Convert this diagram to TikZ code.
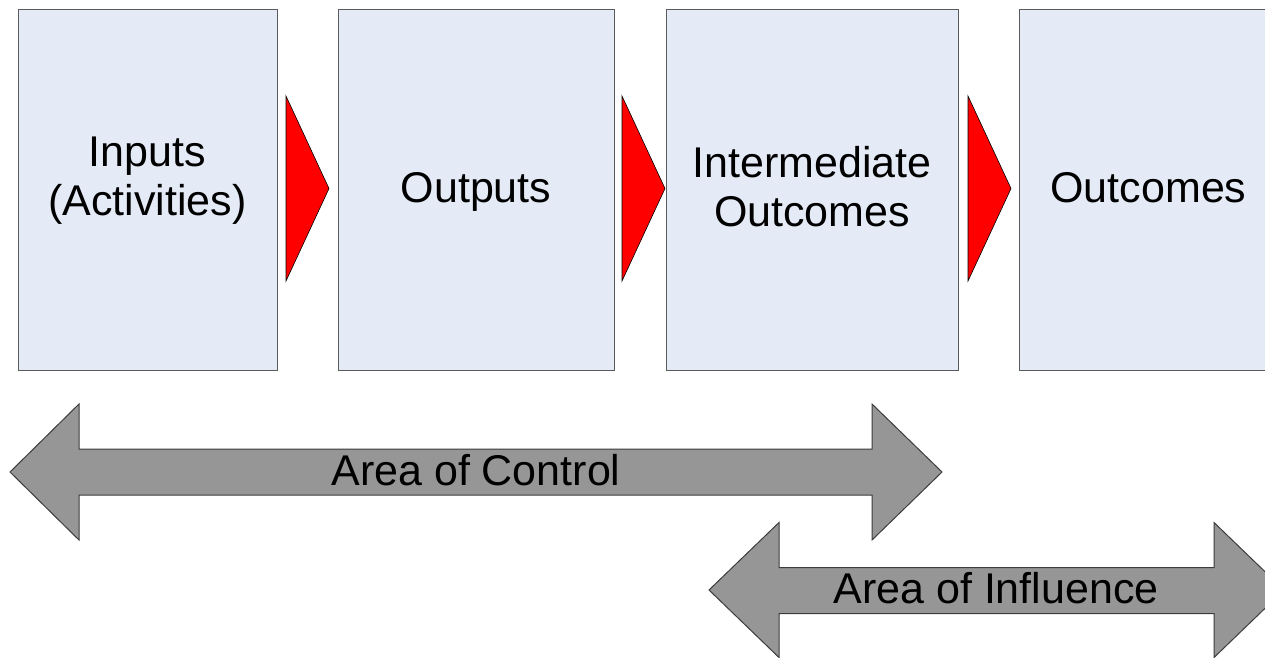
\documentclass[tikz,border=0pt]{standalone}
\usepackage{fontspec}
\setmainfont{Liberation Sans}
\definecolor{boxfill}{RGB}{229,235,246}
\definecolor{boxline}{RGB}{90,90,90}
\definecolor{arrowfill}{RGB}{150,150,150}
\definecolor{arrowline}{RGB}{60,60,60}
\definecolor{chevred}{RGB}{255,0,0}
\tikzset{
  stagebox/.style={draw=boxline, fill=boxfill, line width=1pt, anchor=north west,
    minimum width=259pt, minimum height=361pt, inner sep=0pt, outer sep=0pt},
  chev/.style={draw=black, fill=chevred, line width=0.6pt, line join=miter},
  bigarrow/.style={draw=arrowline, fill=arrowfill, line width=1pt, line join=miter},
  lbl/.style={font=\fontsize{43}{49}\selectfont, align=center, inner sep=0pt, anchor=base}
}
\begin{document}
\begin{tikzpicture}[x=1pt,y=-1pt]
\useasboundingbox (0,0) rectangle (1265,657);
% boxes
\node[stagebox] (b1) at (18,9) {};
\node[stagebox, minimum width=276pt] (b2) at (338,9) {};
\node[stagebox, minimum width=292pt] (b3) at (666,9) {};
\node[stagebox] (b4) at (1019,9) {};
% chevrons
\draw[chev] (286,96) -- (329,188.5) -- (286,281) -- cycle;
\draw[chev] (622,96) -- (665,188.5) -- (622,281) -- cycle;
\draw[chev] (968,96) -- (1011,188.5) -- (968,281) -- cycle;
% box labels (base = baseline of last line)
\node[lbl] (t1) at (b1.center |- 0,215) {Inputs\\(Activities)};
\node[lbl] (t2) at (b2.center |- 0,202) {Outputs};
\node[lbl] (t3) at (b3.center |- 0,226) {Intermediate\\Outcomes};
\node[lbl] (t4) at (b4.center |- 0,202) {Outcomes};
% double arrows
\draw[bigarrow] (10,472) -- (79,404) -- (79,449) -- (872,449) -- (872,404) -- (942,472)
  -- (872,540) -- (872,495) -- (79,495) -- (79,540) -- cycle;
\node[lbl] (ac) at (476,485) {Area of Control};
\draw[bigarrow] (709,590) -- (779,522.5) -- (779,567.5) -- (1214,567.5) -- (1214,522.5) -- (1284,590)
  -- (1214,657.5) -- (1214,613.5) -- (779,613.5) -- (779,657.5) -- cycle;
\node[lbl] (ai) at (996,603) {Area of Influence};
\end{tikzpicture}
\end{document}
